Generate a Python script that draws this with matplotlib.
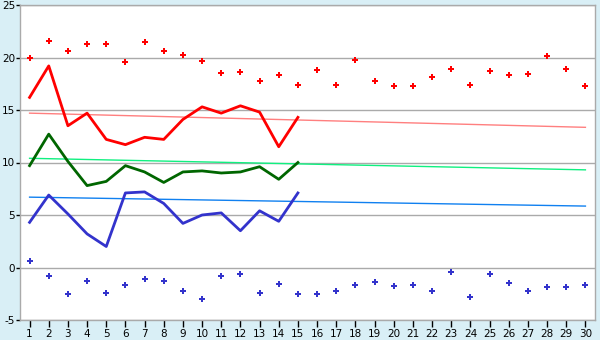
import matplotlib
matplotlib.use("Agg")
import matplotlib.pyplot as plt

plt.rcParams["axes.unicode_minus"] = False

days = list(range(1, 31))

# daily max / min (markers, 30 days)
t_max = [20.0, 21.6, 20.6, 21.3, 21.3, 19.6, 21.5, 20.6, 20.2, 19.7,
         18.5, 18.6, 17.8, 18.3, 17.4, 18.8, 17.4, 19.8, 17.8, 17.3,
         17.3, 18.1, 18.9, 17.4, 18.7, 18.3, 18.4, 20.1, 18.9, 17.3]
t_min = [0.6, -0.8, -2.5, -1.3, -2.4, -1.7, -1.1, -1.3, -2.2, -3.0,
         -0.8, -0.6, -2.4, -1.6, -2.5, -2.5, -2.2, -1.7, -1.4, -1.8,
         -1.7, -2.2, -0.4, -2.8, -0.6, -1.5, -2.2, -1.9, -1.9, -1.7]

# measured lines (first 15 days)
line_days = list(range(1, 16))
red_line = [16.2, 19.2, 13.5, 14.7, 12.2, 11.7, 12.4, 12.2, 14.1, 15.3,
            14.7, 15.4, 14.8, 11.5, 14.3]
green_line = [9.7, 12.7, 10.1, 7.8, 8.2, 9.7, 9.1, 8.1, 9.1, 9.2,
              9.0, 9.1, 9.6, 8.4, 10.0]
blue_line = [4.3, 6.9, 5.1, 3.2, 2.0, 7.1, 7.2, 6.1, 4.2, 5.0,
             5.2, 3.5, 5.4, 4.4, 7.1]

# trend lines: value on day 1 and day 30
trend_days = [1, 30]
red_trend = [14.7, 13.35]
green_trend = [10.4, 9.3]
blue_trend = [6.7, 5.85]

bg = "#d9eff6"
grid = "#aaaaaa"

fig = plt.figure(figsize=(6, 3.4), dpi=100, facecolor=bg)
ax = fig.add_axes([20/600, 1-320/340, 575/600, 315/340])
ax.set_facecolor("white")

ax.set_ylim(-5, 25)
ax.set_xlim(0.5, 30.5)
ax.set_yticks(range(-5, 30, 5))
ax.set_xticks(days)
ax.yaxis.grid(True, color=grid, lw=1)
ax.set_axisbelow(True)
for s in ax.spines.values():
    s.set_color(grid)
    s.set_linewidth(1)

ax.tick_params(axis="both", colors="black", labelsize=7.5, width=1)
ax.tick_params(axis="x", length=5, pad=1.5)
ax.tick_params(axis="y", length=3, pad=0.5)

# trends
ax.plot(trend_days, red_trend, color="#ff7f7f", lw=1)
ax.plot(trend_days, green_trend, color="#10f080", lw=1)
ax.plot(trend_days, blue_trend, color="#1080f0", lw=1)

# lines
ax.plot(line_days, red_line, color="#ff0000", lw=2)
ax.plot(line_days, green_line, color="#006600", lw=2)
ax.plot(line_days, blue_line, color="#3333cc", lw=2)

# markers
ax.plot(days, t_max, ls="none", marker="P", ms=4.5, color="#ff0000", mew=0)
ax.plot(days, t_min, ls="none", marker="P", ms=4.5, color="#3333cc", mew=0)

fig.savefig("out.png", dpi=100, facecolor=bg)
